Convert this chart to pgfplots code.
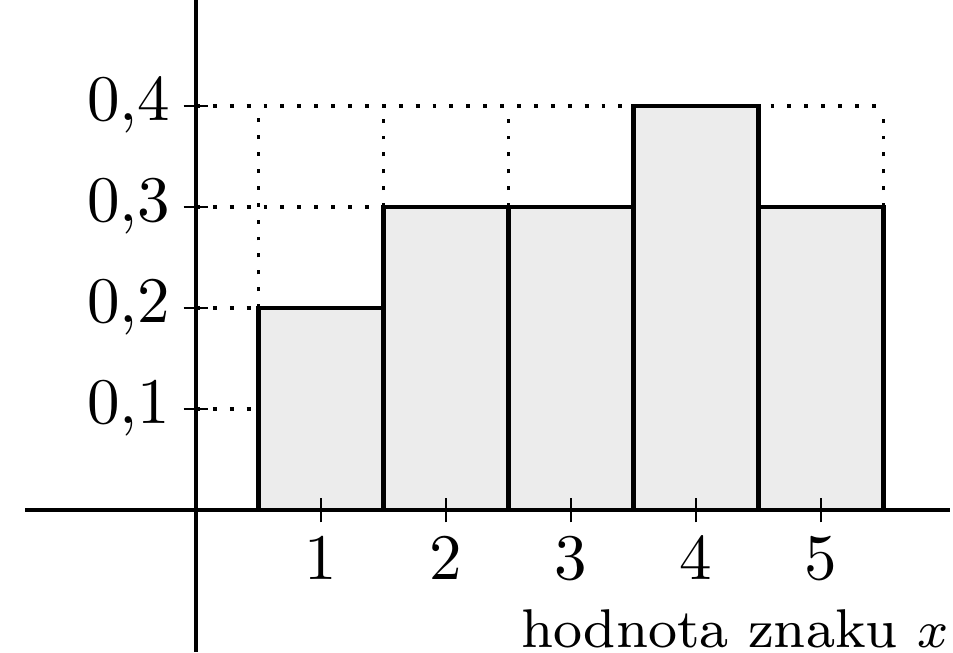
\documentclass[border=0pt]{standalone}
\usepackage{pgfplots}
\pgfplotsset{compat=1.18}
\begin{document}
\begin{tikzpicture}
\begin{axis}[
  x=19.23pt, y=155.4pt,
  xmin=-1.368, xmax=6.032, ymin=-0.1406, ymax=0.505,
  axis lines=middle,
  axis line style={-, line width=0.5pt},
  axis on top,
  xtick={1,2,3,4,5},
  ytick={0.1,0.2,0.3,0.4},
  tick align=center,
  major tick length=3.8pt,
  tick style={black, line width=0.4pt},
  xticklabel style={yshift=1.2pt},
  yticklabel style={
    /pgf/number format/use comma,
    /pgf/number format/fixed,
    /pgf/number format/fixed zerofill,
    /pgf/number format/precision=1,
    xshift=1.5pt},
  clip=false,
]
% dotted guide lines
\addplot[black, dotted, line width=0.6pt] coordinates {(0,0.1) (0.5,0.1)};
\addplot[black, dotted, line width=0.6pt] coordinates {(0,0.2) (0.5,0.2)};
\addplot[black, dotted, line width=0.6pt] coordinates {(0,0.3) (1.5,0.3)};
\addplot[black, dotted, line width=0.6pt] coordinates {(0,0.4) (5.5,0.4)};
\addplot[black, dotted, line width=0.6pt] coordinates {(0.5,0.2) (0.5,0.4)};
\addplot[black, dotted, line width=0.6pt] coordinates {(1.5,0.3) (1.5,0.4)};
\addplot[black, dotted, line width=0.6pt] coordinates {(2.5,0.3) (2.5,0.4)};
\addplot[black, dotted, line width=0.6pt] coordinates {(5.5,0.3) (5.5,0.4)};
% histogram bars
\addplot[ybar interval, draw=black, line width=0.65pt, fill=gray!15]
  coordinates {(0.5,0.2) (1.5,0.3) (2.5,0.3) (3.5,0.4) (4.5,0.3) (5.5,0.3)};
\node[anchor=base east, font=\fontsize{8.4}{10}\selectfont, inner sep=0pt]
  at (axis cs:6.03,-0.1356) {hodnota znaku $x$};
\coordinate (bl) at (axis cs:-1.568,-0.1406);
\coordinate (tr) at (axis cs:6.056,0.505);
\end{axis}
\pgfresetboundingbox
\path[use as bounding box] (bl) rectangle (tr);
\end{tikzpicture}
\end{document}
